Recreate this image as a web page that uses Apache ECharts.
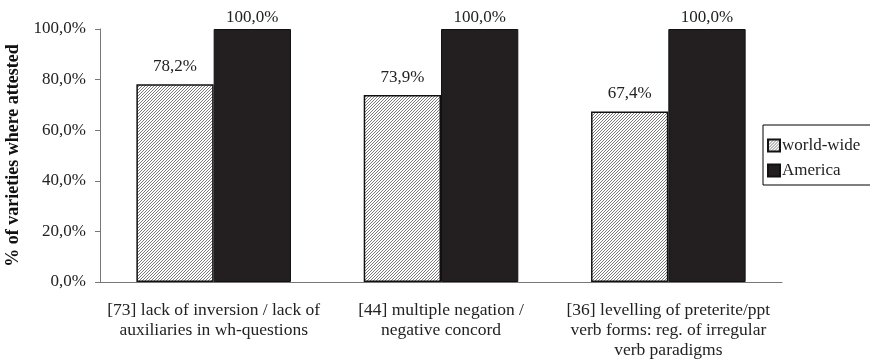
<!DOCTYPE html>
<html>
<head>
<meta charset="utf-8">
<script src="https://cdn.jsdelivr.net/npm/echarts@6/dist/echarts.min.js"></script>
<style>
  html, body { margin: 0; padding: 0; background: #fff; }
</style>
</head>
<body>
<div id="chart" style="width: 870px;height:360px"></div>
<script>
const categories = [
  '[73] lack of inversion / lack of\nauxiliaries in wh-questions',
  '[44] multiple negation /\nnegative concord',
  '[36] levelling of preterite/ppt\nverb forms: reg. of irregular\nverb paradigms'
]
const worldWide = [78.2, 73.9, 67.4]
const america = [100, 100, 100]
const yTicks = [0, 20, 40, 60, 80, 100]

// hatch pattern for the world-wide bars
function hatch () {
  let c = document.createElement('canvas')
  c.width = 3
  c.height = 3
  let ctx = c.getContext('2d')
  ctx.fillStyle = '#fff'
  ctx.fillRect(0, 0, 3, 3)
  ctx.fillStyle = '#7a7a7a'
  // one pixel per row, shifting -> diagonal lines
  ctx.fillRect(2, 0, 1, 1)
  ctx.fillRect(1, 1, 1, 1)
  ctx.fillRect(0, 2, 1, 1)
  return { image: c, repeat: 'repeat' }
}

const fmt = v => v.toFixed(1).replace('.', ',') + '%'
const font = '"Liberation Serif", "Times New Roman", serif'

let myChart = echarts.init(document.getElementById('chart'))
let option = {
  animation: false,
  textStyle: { fontFamily: font },
  grid: { left: 100, right: 88, top: 29, bottom: 78, containLabel: false, outerBoundsMode: 'none' },
  legend: {
    orient: 'vertical',
    left: 763,
    top: 125,
    padding: [12, 12, 6, 4],
    itemGap: 8,
    itemWidth: 12,
    itemHeight: 12,
    borderColor: '#000',
    borderWidth: 1,
    textStyle: { fontFamily: font, fontSize: 17, color: '#222', padding: [0, 0, 0, -3] },
    data: [
      { name: 'world-wide', icon: 'rect' },
      { name: 'America', icon: 'rect' }
    ]
  },
  xAxis: {
    type: 'category',
    data: categories,
    axisLine: { lineStyle: { color: '#777' } },
    axisTick: { length: 5, lineStyle: { color: '#777' } },
    axisLabel: {
      interval: 0,
      margin: 18,
      fontFamily: font,
      fontSize: 17.5,
      lineHeight: 20,
      color: '#222'
    }
  },
  yAxis: {
    type: 'value',
    min: yTicks[0],
    max: yTicks[yTicks.length - 1],
    interval: 20,
    name: '% of varieties where attested',
    nameLocation: 'middle',
    nameGap: 72,
    nameTextStyle: { fontFamily: font, fontSize: 18, fontWeight: 'bold', color: '#111' },
    splitLine: { show: false },
    axisLine: { show: true, lineStyle: { color: '#777' } },
    axisTick: { show: true, length: 5, lineStyle: { color: '#777' } },
    axisLabel: {
      fontFamily: font,
      fontSize: 17,
      color: '#222',
      margin: 14,
      formatter: fmt
    }
  },
  series: [
    {
      name: 'world-wide',
      type: 'bar',
      barGap: '0%',
      barCategoryGap: '32%',
      data: worldWide,
      itemStyle: { color: hatch(), borderColor: '#111', borderWidth: 1.5 },
      label: {
        show: true,
        position: 'top',
        distance: 9,
        fontFamily: font,
        fontSize: 17,
        color: '#222',
        formatter: p => fmt(p.value)
      }
    },
    {
      name: 'America',
      type: 'bar',
      data: america,
      itemStyle: { color: '#231f20', borderColor: '#111', borderWidth: 1 },
      label: {
        show: true,
        position: 'top',
        distance: 3,
        fontFamily: font,
        fontSize: 17,
        color: '#222',
        formatter: p => fmt(p.value)
      }
    }
  ]
}
myChart.setOption(option)
</script>
</body>
</html>
